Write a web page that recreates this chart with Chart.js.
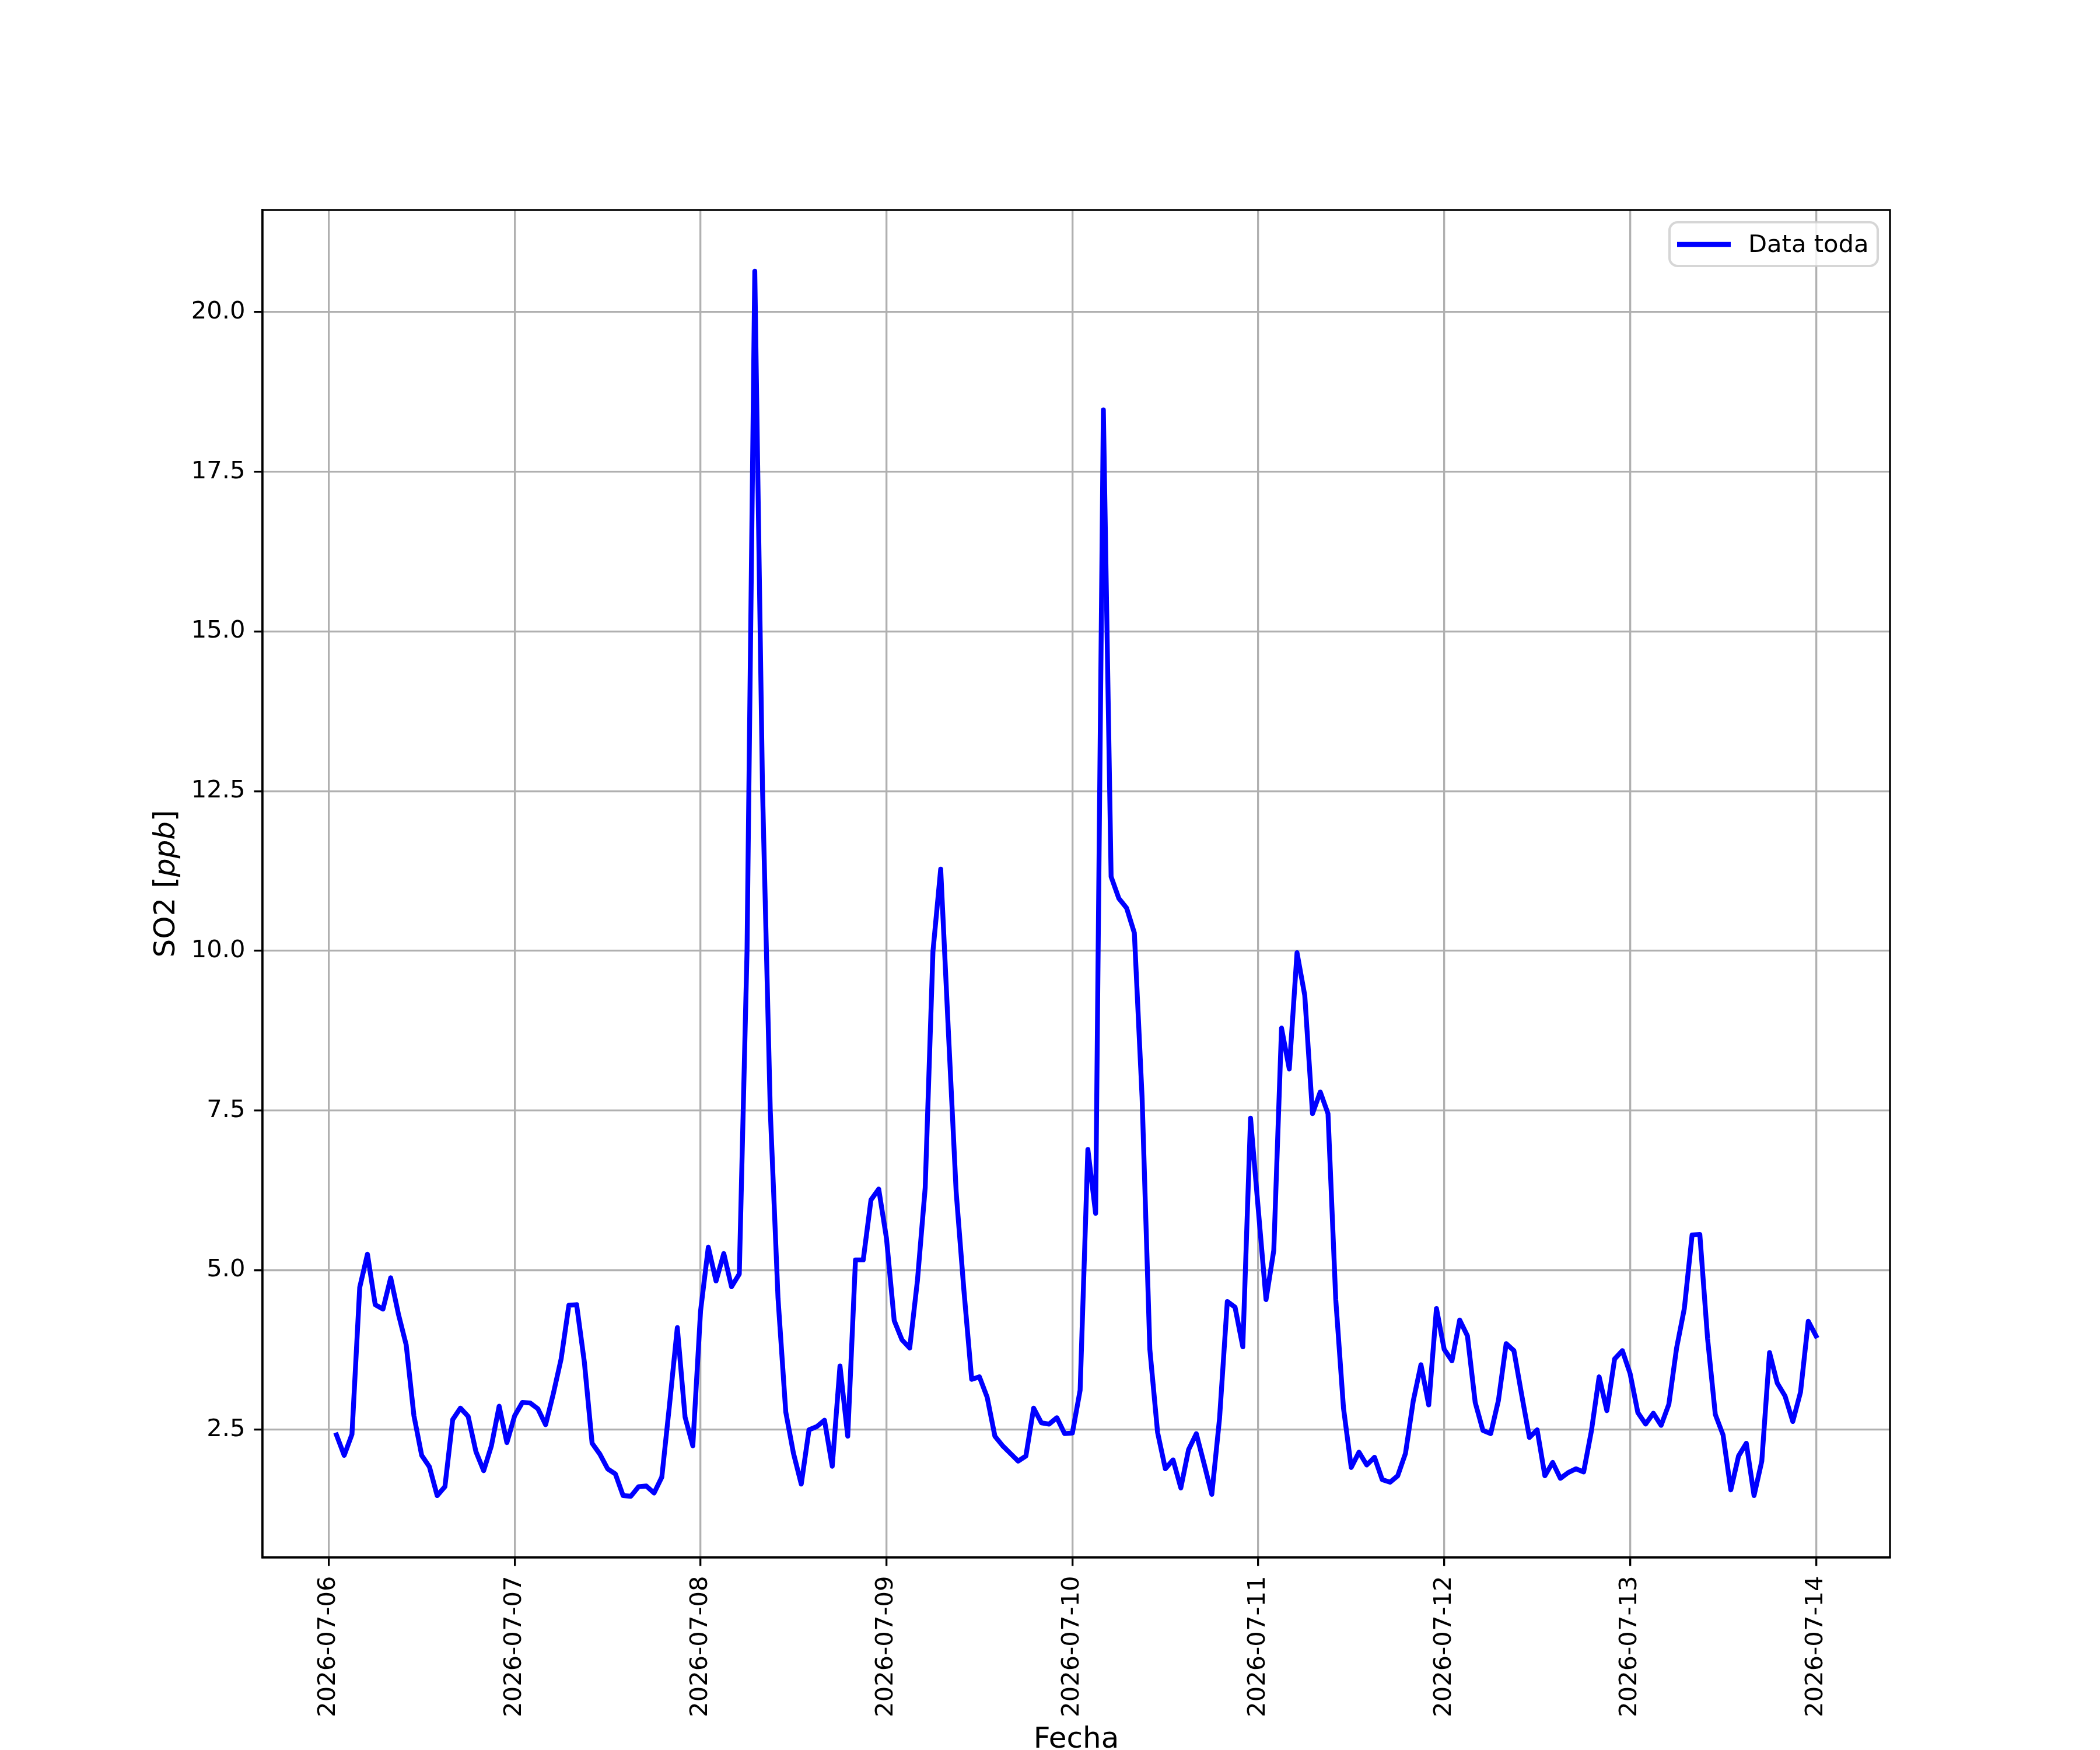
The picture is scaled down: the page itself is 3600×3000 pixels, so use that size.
<!DOCTYPE html>
<html>
<head>
<meta charset="utf-8">
<script src="https://cdn.jsdelivr.net/npm/chart.js@4.4.1/dist/chart.umd.min.js"></script>
<style>
  html, body { margin: 0; padding: 0; background: #fff; }
  canvas { display: block; }
</style>
</head>
<body>
<canvas id="so2-chart" width="3600" height="3000" style="width:3600px;height:3000px"></canvas>
<script>
// hourly SO2 readings, first value is 2026-07-06 01:00, last is 2026-07-14 00:00
const day1 = [2.42, 2.10, 2.43, 4.73, 5.25, 4.46, 4.39, 4.88, 4.31, 3.83, 2.72, 2.10, 1.92, 1.47, 1.61, 2.66, 2.84, 2.71, 2.16, 1.86, 2.25, 2.87, 2.30, 2.72];
const day2 = [2.93, 2.92, 2.83, 2.58, 3.07, 3.61, 4.45, 4.46, 3.56, 2.29, 2.12, 1.89, 1.81, 1.47, 1.46, 1.61, 1.62, 1.51, 1.76, 2.90, 4.10, 2.70, 2.25, 4.36];
const day3 = [5.36, 4.83, 5.26, 4.74, 4.94, 10.00, 20.64, 12.53, 7.50, 4.56, 2.78, 2.13, 1.65, 2.50, 2.55, 2.65, 1.93, 3.50, 2.40, 5.16, 5.16, 6.10, 6.27, 5.50];
const day4 = [4.21, 3.91, 3.78, 4.84, 6.29, 9.99, 11.28, 8.72, 6.22, 4.68, 3.29, 3.33, 3.01, 2.40, 2.25, 2.13, 2.01, 2.09, 2.84, 2.61, 2.59, 2.69, 2.44, 2.45];
const day5 = [3.12, 6.89, 5.89, 18.47, 11.16, 10.82, 10.67, 10.28, 7.70, 3.76, 2.46, 1.89, 2.03, 1.59, 2.19, 2.44, 1.97, 1.49, 2.68, 4.51, 4.42, 3.80, 7.38, 5.95];
const day6 = [4.54, 5.31, 8.79, 8.15, 9.97, 9.30, 7.45, 7.79, 7.45, 4.54, 2.84, 1.91, 2.15, 1.95, 2.07, 1.72, 1.68, 1.78, 2.13, 2.95, 3.52, 2.89, 4.40, 3.76];
const day7 = [3.58, 4.22, 3.97, 2.93, 2.49, 2.44, 2.96, 3.85, 3.74, 3.05, 2.38, 2.50, 1.78, 1.99, 1.74, 1.83, 1.89, 1.84, 2.48, 3.33, 2.80, 3.61, 3.74, 3.38];
const day8 = [2.77, 2.59, 2.76, 2.57, 2.90, 3.78, 4.40, 5.55, 5.56, 3.93, 2.74, 2.42, 1.56, 2.09, 2.29, 1.47, 2.01, 3.71, 3.23, 3.03, 2.63, 3.09, 4.20, 3.97];

const dateTicks = ['2026-07-06', '2026-07-07', '2026-07-08', '2026-07-09', '2026-07-10', '2026-07-11', '2026-07-12', '2026-07-13', '2026-07-14'];
const valueTicks = [2.5, 5.0, 7.5, 10.0, 12.5, 15.0, 17.5, 20.0];
const seriesLabel = 'Data toda';
const xLabel = 'Fecha';

const so2 = [].concat(day1, day2, day3, day4, day5, day6, day7, day8);
// x is hours since 2026-07-06 00:00
const points = so2.map((v, i) => ({ x: i + 1, y: v }));

// matplotlib style 5% margins
const xMin = 1, xMax = so2.length;
const yMin = Math.min(...so2), yMax = Math.max(...so2);
const xPad = (xMax - xMin) * 0.05;
const yPad = (yMax - yMin) * 0.05;

const PT = 300 / 72;
const FONT = 'DejaVu Sans';
const tickFont = 10 * PT;
const labelFont = 12 * PT;
const lineW = 2 * PT;

const frame = {
    id: 'frame',
    beforeDraw(chart) {
        const ctx = chart.ctx;
        ctx.save();
        ctx.fillStyle = '#fff';
        ctx.fillRect(0, 0, chart.width, chart.height);
        ctx.restore();
    },
    afterDraw(chart) {
        const ctx = chart.ctx;
        const a = chart.chartArea;
        ctx.save();

        // spines
        ctx.strokeStyle = '#000';
        ctx.lineWidth = 0.8 * PT;
        ctx.strokeRect(a.left, a.top, a.right - a.left, a.bottom - a.top);

        // legend
        const bx = 2862, by = 381, bw = 357, bh = 75, r = 14;
        ctx.beginPath();
        ctx.moveTo(bx + r, by);
        ctx.arcTo(bx + bw, by, bx + bw, by + bh, r);
        ctx.arcTo(bx + bw, by + bh, bx, by + bh, r);
        ctx.arcTo(bx, by + bh, bx, by, r);
        ctx.arcTo(bx, by, bx + bw, by, r);
        ctx.closePath();
        ctx.fillStyle = 'rgba(255,255,255,0.8)';
        ctx.fill();
        ctx.strokeStyle = 'rgba(204,204,204,0.8)';
        ctx.lineWidth = 1 * PT;
        ctx.stroke();

        ctx.beginPath();
        ctx.moveTo(2875, 419);
        ctx.lineTo(2967, 419);
        ctx.strokeStyle = '#0000ff';
        ctx.lineWidth = lineW;
        ctx.lineCap = 'butt';
        ctx.stroke();

        ctx.fillStyle = '#000';
        ctx.font = tickFont + 'px "' + FONT + '"';
        ctx.textAlign = 'left';
        ctx.textBaseline = 'alphabetic';
        ctx.fillText(seriesLabel, 2997, 432);

        // x label
        ctx.font = labelFont + 'px "' + FONT + '"';
        ctx.textAlign = 'center';
        ctx.fillText(xLabel, (a.left + a.right) / 2, 2996);

        // y label: SO2 [ppb] with ppb in italic
        const parts = [
            { t: 'SO2 [', f: labelFont + 'px "' + FONT + '"' },
            { t: 'ppb', f: 'italic ' + labelFont + 'px "' + FONT + '"' },
            { t: ']', f: labelFont + 'px "' + FONT + '"' }
        ];
        let total = 0;
        parts.forEach(p => { ctx.font = p.f; p.w = ctx.measureText(p.t).width; total += p.w; });
        ctx.translate(299, (a.top + a.bottom) / 2);
        ctx.rotate(-Math.PI / 2);
        ctx.textAlign = 'left';
        let cx = -total / 2;
        parts.forEach(p => { ctx.font = p.f; ctx.fillText(p.t, cx, 0); cx += p.w; });

        ctx.restore();
    }
};

new Chart(document.getElementById('so2-chart'), {
    type: 'line',
    data: {
        datasets: [{
            label: seriesLabel,
            data: points,
            borderColor: '#0000ff',
            backgroundColor: '#0000ff',
            borderWidth: lineW,
            borderJoinStyle: 'round',
            borderCapStyle: 'square',
            pointRadius: 0,
            tension: 0,
            fill: false
        }]
    },
    options: {
        responsive: false,
        devicePixelRatio: 1,
        animation: false,
        layout: { padding: { left: 0, right: 360, top: 360, bottom: 0 } },
        plugins: {
            legend: { display: false },
            tooltip: { enabled: false }
        },
        scales: {
            x: {
                type: 'linear',
                min: xMin - xPad,
                max: xMax + xPad,
                afterBuildTicks: (scale) => {
                    scale.ticks = dateTicks.map((_, i) => ({ value: i * 24 }));
                },
                afterFit: (scale) => { scale.height = 330; },
                grid: {
                    color: '#b0b0b0',
                    lineWidth: 0.8 * PT,
                    tickColor: '#000',
                    tickWidth: 0.8 * PT,
                    tickLength: 3.5 * PT
                },
                border: { display: true, color: '#000', width: 0.8 * PT },
                ticks: {
                    autoSkip: false,
                    minRotation: 90,
                    maxRotation: 90,
                    padding: 17,
                    color: '#000',
                    font: { family: FONT, size: tickFont },
                    callback: (value) => dateTicks[Math.round(value / 24)]
                }
            },
            y: {
                type: 'linear',
                min: yMin - yPad,
                max: yMax + yPad,
                afterBuildTicks: (scale) => {
                    scale.ticks = valueTicks.map(v => ({ value: v }));
                },
                afterFit: (scale) => { scale.width = 450; },
                grid: {
                    color: '#b0b0b0',
                    lineWidth: 0.8 * PT,
                    tickColor: '#000',
                    tickWidth: 0.8 * PT,
                    tickLength: 3.5 * PT
                },
                border: { display: true, color: '#000', width: 0.8 * PT },
                ticks: {
                    padding: 15,
                    color: '#000',
                    font: { family: FONT, size: tickFont },
                    callback: (value) => value.toFixed(1)
                }
            }
        }
    },
    plugins: [frame]
});
</script>
</body>
</html>
